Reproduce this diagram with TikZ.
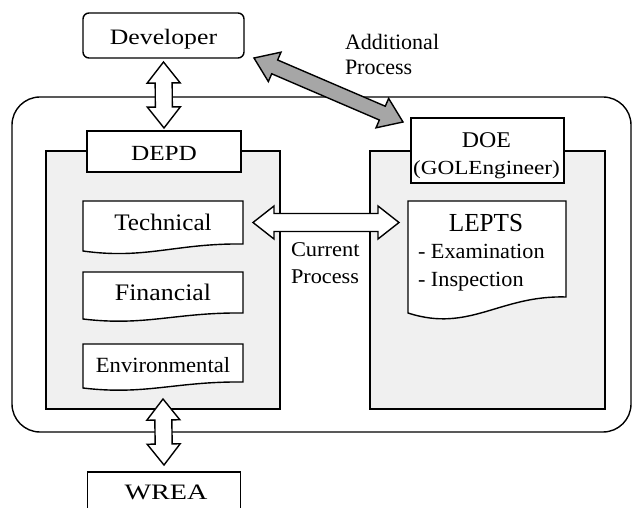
\documentclass[tikz,border=0pt]{standalone}
\usepackage{fontspec}
\setmainfont{Liberation Serif}
\usepackage{graphicx}
\usetikzlibrary{calc}
\definecolor{panelgray}{HTML}{F0F0F0}
\definecolor{arrowgray}{HTML}{A6A6A6}
\newcommand\fsz[1]{\fontsize{#1}{#1}\selectfont}
\newcommand\sx[2]{\scalebox{#1}[1]{#2}}
% block double arrow: style, A, B, shaft half, head half, head length
\newcommand\blockarrow[6]{%
  \coordinate (baA) at ($(#2)!#6!(#3)$);
  \coordinate (baB) at ($(#3)!#6!(#2)$);
  \draw[#1] (#2) -- ($(baA)!#5!90:(#3)$) -- ($(baA)!#4!90:(#3)$)
    -- ($(baB)!#4!-90:(#2)$) -- ($(baB)!#5!-90:(#2)$) -- (#3)
    -- ($(baB)!#5!90:(#2)$) -- ($(baB)!#4!90:(#2)$)
    -- ($(baA)!#4!-90:(#3)$) -- ($(baA)!#5!-90:(#3)$) -- cycle;
}
% document shape outline: node, width, wave drop
\newcommand\docoutline[3]{%
  \draw[bdr, fill=white] (#1.north west) -- (#1.north east) -- (#1.south east)
    .. controls ($(#1.south east)+(-0.42*#2,-0.125*#3)$) and ($(#1.south west)+(0.39*#2,2.25*#3)$)
    .. ($(#1.south west)+(0,#3)$) -- cycle;
}
\tikzset{
  every node/.style={inner sep=0pt, outer sep=0pt},
  bdr/.style={draw, line width=1.4pt},
  whitebox/.style={bdr, fill=white},
  panel/.style={bdr, fill=panelgray},
  docarea/.style={draw=none},
  hollowarrow/.style={bdr, fill=white, line join=miter},
  grayarrow/.style={bdr, fill=arrowgray, line join=miter},
  txt/.style={anchor=base},
  txtl/.style={anchor=base west}
}
\begin{document}
\begin{tikzpicture}[x=1pt,y=-1pt]
\clip (0,0) rectangle (633,508);
% outer frame
\node[bdr, rounded corners=28pt, minimum width=619pt, minimum height=335pt] (outer) at (321.5,264.5) {};
% panels
\node[panel, minimum width=234pt, minimum height=258pt] (depdpanel) at (163,280) {};
\node[panel, minimum width=235pt, minimum height=258pt] (doepanel) at (487.5,280) {};
% tabs
\node[whitebox, minimum width=154pt, minimum height=41pt] (depdtab) at (164,151.5) {};
\node[whitebox, minimum width=153pt, minimum height=65pt] (doetab) at (487.5,150.5) {};
% top and bottom boxes
\node[whitebox, rounded corners=6pt, minimum width=161pt, minimum height=45pt] (dev) at (163.5,35.5) {};
\node[whitebox, minimum width=153pt, minimum height=48pt] (wrea) at (164,496) {};
% documents
\node[docarea, minimum width=160pt, minimum height=43pt] (tech) at (163,222.5) {};
\node[docarea, minimum width=160pt, minimum height=41pt] (fin) at (163,292.5) {};
\node[docarea, minimum width=160pt, minimum height=38pt] (env) at (163,363) {};
\node[docarea, minimum width=158pt, minimum height=96pt] (lepts) at (487,249) {};
\docoutline{tech}{160}{7}
\docoutline{fin}{160}{6}
\docoutline{env}{160}{6}
\docoutline{lepts}{158}{16}
% texts
\node[txt, font=\fsz{22}] (devtxt) at (163.5,45) {\sx{1.17}{Developer}};
\node[txtl, font=\fsz{22}] (addtxt1) at (345,50) {Additional};
\node[txtl, font=\fsz{22}] (addtxt2) at (345,75) {Process};
\node[txt, font=\fsz{21.6}] (depdtxt) at (164,161) {\sx{1.17}{DEPD}};
\node[txt, font=\fsz{22.5}] (doetxt) at (486.5,148) {\sx{1.06}{DOE}};
\node[txt, font=\fsz{20}] (goltxt) at (486.5,175) {\sx{1.16}{(GOLEngineer)}};
\node[txt, font=\fsz{23.7}] (techtxt) at (163,231) {\sx{1.06}{Technical}};
\node[txt, font=\fsz{23.7}] (fintxt) at (163,301) {\sx{1.09}{Financial}};
\node[txt, font=\fsz{21.7}] (envtxt) at (163,373) {\sx{1.04}{Environmental}};
\node[txt, font=\fsz{26}] (leptstxt) at (486,232) {\sx{0.97}{LEPTS}};
\node[txtl, font=\fsz{21.6}] (examtxt) at (418,259) {\sx{1.03}{- Examination}};
\node[txtl, font=\fsz{21.6}] (insptxt) at (418,287) {\sx{1.03}{- Inspection}};
\node[txtl, font=\fsz{21}] (curtxt1) at (291,257) {\sx{1.07}{Current}};
\node[txtl, font=\fsz{21}] (curtxt2) at (291,284) {\sx{1.06}{Process}};
\node[txt, font=\fsz{22}] (wreatxt) at (166,499) {\sx{1.28}{WREA}};
% connector end points
\coordinate (upA) at ($(dev.south)+(0,4)$);
\coordinate (upB) at ($(depdtab.north)+(0,-3)$);
\coordinate (dnA) at ($(depdpanel.south)+(0,-10)$);
\coordinate (dnB) at ($(wrea.north)+(0,-7)$);
\coordinate (curA) at ($(tech.east)+(10,0)$);
\coordinate (curB) at ($(lepts.west |- tech.east)+(-9,0)$);
\coordinate (grA) at ($(dev.south east)+(10,0)$);
\coordinate (grB) at ($(doetab.north west)+(-8,4)$);
% block arrows
\blockarrow{hollowarrow}{upA}{upB}{8.5pt}{16.5pt}{21pt}
\blockarrow{hollowarrow}{dnA}{dnB}{8.5pt}{16.5pt}{21pt}
\blockarrow{hollowarrow}{curA}{curB}{9pt}{16.5pt}{21pt}
\blockarrow{grayarrow}{grA}{grB}{7.5pt}{16pt}{22.5pt}
\end{tikzpicture}
\end{document}
